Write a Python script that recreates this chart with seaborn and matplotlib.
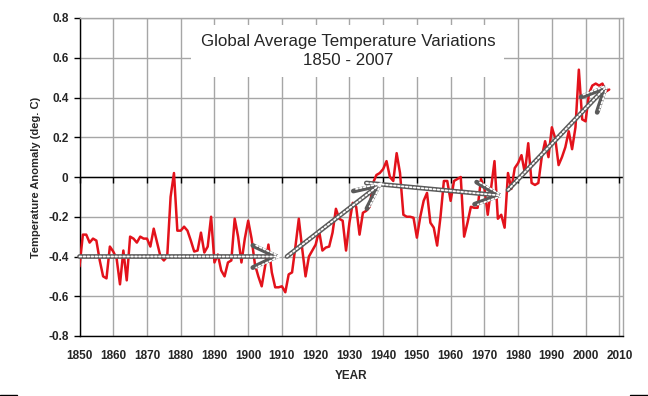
import numpy as np
import pandas as pd
import matplotlib
matplotlib.use("Agg")
import matplotlib.pyplot as plt
from matplotlib.lines import Line2D
import seaborn as sns

# -------------------------------
# Data
# -------------------------------
years = list(range(1850, 2008))
anomaly = [
    -0.45, -0.29, -0.29, -0.33, -0.31, -0.32, -0.42, -0.50, -0.51, -0.35,   # 1850s
    -0.375, -0.41, -0.54, -0.37, -0.52, -0.30, -0.31, -0.33, -0.30, -0.31,  # 1860s
    -0.31, -0.35, -0.26, -0.33, -0.40, -0.42, -0.40, -0.10, 0.02, -0.27,    # 1870s
    -0.27, -0.25, -0.27, -0.32, -0.375, -0.37, -0.28, -0.38, -0.35, -0.20,  # 1880s
    -0.43, -0.39, -0.47, -0.50, -0.43, -0.42, -0.21, -0.30, -0.43, -0.31,   # 1890s
    -0.22, -0.31, -0.44, -0.50, -0.55, -0.45, -0.34, -0.48, -0.555, -0.555, # 1900s
    -0.55, -0.58, -0.49, -0.48, -0.35, -0.21, -0.36, -0.50, -0.40, -0.37,   # 1910s
    -0.34, -0.27, -0.37, -0.355, -0.35, -0.28, -0.16, -0.21, -0.22, -0.37,  # 1920s
    -0.23, -0.13, -0.15, -0.29, -0.18, -0.17, -0.15, -0.03, 0.01, 0.02,     # 1930s
    0.04, 0.08, 0.00, -0.02, 0.12, 0.02, -0.19, -0.20, -0.20, -0.205,       # 1940s
    -0.305, -0.20, -0.12, -0.08, -0.23, -0.255, -0.345, -0.20, -0.02, -0.02,  # 1950s
    -0.12, -0.02, -0.01, 0.00, -0.30, -0.23, -0.15, -0.155, -0.155, -0.01,  # 1960s
    -0.055, -0.19, -0.055, 0.08, -0.21, -0.19, -0.255, 0.02, -0.06, 0.045,  # 1970s
    0.07, 0.11, 0.02, 0.17, -0.03, -0.04, -0.03, 0.10, 0.18, 0.10,          # 1980s
    0.25, 0.195, 0.06, 0.10, 0.15, 0.23, 0.14, 0.25, 0.54, 0.29,            # 1990s
    0.28, 0.42, 0.46, 0.47, 0.46, 0.47, 0.43, 0.44,                         # 2000s
]

# trend arrows (start year/value -> end year/value)
trend_start_year = [1850, 1911.5, 1935, 1977]
trend_start_val = [-0.40, -0.40, -0.03, -0.065]
trend_end_year = [1910, 1940, 1976, 2007]
trend_end_val = [-0.40, -0.025, -0.095, 0.47]

x_ticks = list(range(1850, 2011, 10))
y_ticks = [0.8, 0.6, 0.4, 0.2, 0, -0.2, -0.4, -0.6, -0.8]
y_tick_labels = ["0.8", "0.6", "0.4", "0.2", "0", "-0.2", "-0.4", "-0.6", "-0.8"]

df = pd.DataFrame({"year": years, "anomaly": anomaly})

sns.set_style("white")
plt.rcParams["font.family"] = ["Liberation Sans", "DejaVu Sans"]

fig = plt.figure(figsize=(6.48, 3.96), dpi=100)
ax = fig.add_axes([79.5 / 648, (396 - 336) / 396, (622.7 - 79.5) / 648, (336 - 18) / 396])

grid_col = "#a6a6a6"
ax.set_xlim(1850, 2011)
ax.set_ylim(-0.8, 0.8)
ax.set_xticks(x_ticks)
ax.set_yticks(y_ticks)
ax.set_yticklabels(y_tick_labels)
ax.grid(True, color=grid_col, lw=1)
ax.set_axisbelow(True)

for side in ["top", "right"]:
    ax.spines[side].set_color(grid_col)
    ax.spines[side].set_linewidth(1)
for side in ["left", "bottom"]:
    ax.spines[side].set_color("black")
    ax.spines[side].set_linewidth(1)

ax.tick_params(axis="x", length=0, pad=10, labelsize=8.5)
ax.tick_params(axis="y", length=4, width=1, color="black", pad=4, labelsize=8.5, left=True)
for lab in ax.get_xticklabels() + ax.get_yticklabels():
    lab.set_fontweight("bold")

# zero line with ticks (category axis crossing at 0)
ax.axhline(0, color="black", lw=1, zorder=2)
ax.plot(x_ticks, np.zeros(len(x_ticks)), ls="none", marker=3, ms=4, mew=1,
        color="black", zorder=2, clip_on=False)

# -------------------------------
# Temperature series
# -------------------------------
sns.lineplot(data=df, x="year", y="anomaly", color="#e3121b", lw=1.8, ax=ax, zorder=3)

# -------------------------------
# Trend arrows (hatched look)
# -------------------------------
for x0, y0, x1, y1 in zip(trend_start_year, trend_start_val, trend_end_year, trend_end_val):
    ax.annotate("", xy=(x1, y1), xytext=(x0, y0), zorder=4,
                arrowprops=dict(arrowstyle="->,head_length=1.7,head_width=0.8",
                                mutation_scale=10, lw=3.4, color="#5a5a5a",
                                shrinkA=0, shrinkB=0))
    ax.annotate("", xy=(x1, y1), xytext=(x0, y0), zorder=5,
                arrowprops=dict(arrowstyle="->,head_length=1.7,head_width=0.8",
                                mutation_scale=10, lw=1.3, color="white",
                                linestyle=(0, (1, 1.2)), shrinkA=0, shrinkB=0))

ax.set_xlabel("YEAR", fontsize=8.5, fontweight="bold", labelpad=6)
ax.set_ylabel("Temperature Anomaly (deg. C)", fontsize=8, fontweight="bold", labelpad=5)

ax.text(0.494, 0.897, "Global Average Temperature Variations\n1850 - 2007",
        transform=ax.transAxes, ha="center", va="center", fontsize=12.2,
        linespacing=1.3, zorder=6,
        bbox=dict(boxstyle="square,pad=0.55", facecolor="white", edgecolor="none"))

# small frame marks at bottom corners of the screenshot
fig.add_artist(Line2D([0, 17 / 648], [1.5 / 396, 1.5 / 396], color="black", lw=1))
fig.add_artist(Line2D([630 / 648, 1], [1.5 / 396, 1.5 / 396], color="black", lw=1))

fig.savefig("out.png", dpi=100)
